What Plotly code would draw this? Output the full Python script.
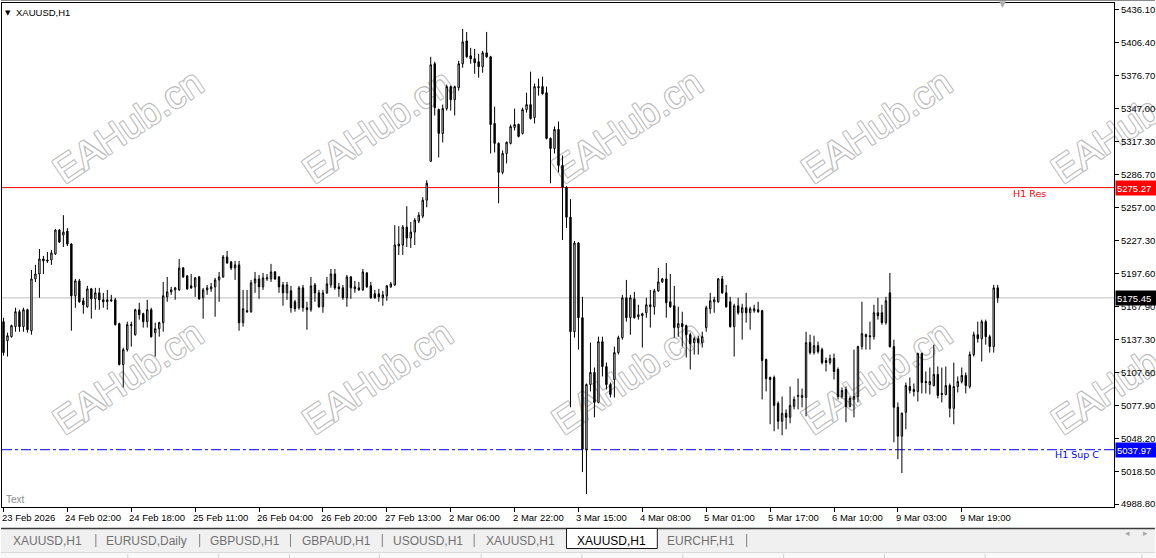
import plotly.graph_objects as go

# ---------------- data ----------------
opens = [5153.9, 5136.7, 5140.3, 5149.4, 5162.9, 5149.4, 5164.7, 5145.7, 5192.6, 5197.1,
         5210.7, 5209.8, 5209.8, 5215.2, 5236.8, 5232.3, 5235.9, 5224.2, 5177.3, 5190.8,
         5172.8, 5167.4, 5183.6, 5174.6, 5180.0, 5173.7, 5171.9, 5173.7, 5173.7, 5152.1,
         5115.1, 5128.6, 5150.3, 5142.1, 5164.7, 5161.1, 5153.9, 5164.7, 5143.9, 5147.5,
         5153.0, 5176.4, 5180.9, 5182.7, 5182.7, 5202.5, 5195.3, 5186.3, 5185.4, 5194.4,
         5175.5, 5182.7, 5183.6, 5185.4, 5191.7, 5194.4, 5212.5, 5208.0, 5202.5, 5205.3,
         5153.0, 5163.8, 5162.9, 5189.0, 5192.6, 5185.4, 5192.6, 5192.6, 5198.9, 5194.4,
         5187.2, 5180.0, 5181.8, 5171.9, 5166.5, 5184.5, 5166.5, 5164.7, 5187.2, 5180.0,
         5167.4, 5180.0, 5187.2, 5197.1, 5185.4, 5184.5, 5175.5, 5194.4, 5183.6, 5184.5,
         5182.7, 5198.0, 5186.3, 5179.1, 5179.1, 5175.5, 5177.3, 5185.4, 5187.2, 5222.4,
         5223.3, 5239.5, 5229.6, 5235.0, 5244.9, 5249.4, 5263.9, 5299.0, 5387.4, 5345.9,
         5324.3, 5346.8, 5366.7, 5354.9, 5365.8, 5387.4, 5408.1, 5394.6, 5391.9, 5389.2,
         5384.7, 5397.3, 5393.7, 5333.3, 5315.3, 5289.1, 5306.2, 5315.3, 5329.7, 5332.4,
         5324.3, 5345.9, 5350.4, 5338.7, 5366.7, 5366.7, 5361.2, 5319.8, 5310.7, 5327.9,
         5295.4, 5275.6, 5248.5, 5144.8, 5225.1, 5157.5, 5038.4, 5097.0, 5107.9, 5080.8,
         5135.8, 5113.3, 5097.0, 5101.5, 5125.9, 5139.4, 5175.5, 5157.5, 5174.6, 5158.4,
         5159.3, 5162.0, 5167.4, 5167.4, 5181.8, 5189.9, 5192.6, 5171.9, 5168.3, 5148.5,
         5152.1, 5150.3, 5142.1, 5134.9, 5138.5, 5134.9, 5148.5, 5165.6, 5171.9, 5171.9,
         5192.6, 5180.0, 5171.9, 5149.4, 5168.3, 5162.0, 5166.5, 5162.0, 5163.8, 5164.7,
         5163.8, 5119.6, 5103.3, 5103.3, 5079.9, 5063.7, 5070.9, 5067.3, 5077.2, 5086.2,
         5085.3, 5085.3, 5134.9, 5125.9, 5132.2, 5128.6, 5118.7, 5116.9, 5120.5, 5110.6,
         5086.2, 5092.5, 5077.2, 5083.5, 5086.2, 5131.3, 5142.1, 5141.2, 5140.3, 5162.0,
         5162.0, 5153.0, 5180.0, 5131.3, 5076.3, 5050.2, 5071.8, 5095.2, 5092.5, 5090.7,
         5125.0, 5099.7, 5097.0, 5096.1, 5106.1, 5088.9, 5088.0, 5096.1, 5075.4, 5095.2,
         5099.7, 5105.2, 5095.2, 5124.1, 5142.1, 5138.5, 5153.9, 5140.3, 5131.3, 5184.5]

highs = [5157.5, 5143.9, 5151.2, 5166.5, 5164.7, 5166.5, 5165.6, 5200.7, 5205.3, 5219.7,
         5213.4, 5217.0, 5218.8, 5237.7, 5237.7, 5250.3, 5238.6, 5225.1, 5192.6, 5192.6,
         5175.5, 5186.3, 5184.5, 5184.5, 5184.5, 5180.0, 5182.7, 5178.2, 5175.5, 5153.0,
         5130.4, 5153.9, 5153.9, 5165.6, 5171.0, 5162.0, 5173.7, 5166.5, 5153.0, 5153.9,
         5189.9, 5194.4, 5185.4, 5185.4, 5210.7, 5203.4, 5196.2, 5197.1, 5194.4, 5195.3,
         5184.5, 5187.2, 5189.0, 5193.5, 5198.9, 5214.3, 5217.9, 5208.9, 5208.9, 5208.9,
         5182.7, 5182.7, 5191.7, 5198.9, 5196.2, 5198.0, 5197.1, 5206.2, 5199.8, 5195.3,
         5189.9, 5189.9, 5186.3, 5173.7, 5186.3, 5187.2, 5171.9, 5194.4, 5189.0, 5182.7,
         5182.7, 5194.4, 5201.6, 5201.6, 5189.0, 5187.2, 5196.2, 5195.3, 5190.8, 5189.9,
         5201.6, 5198.9, 5189.9, 5182.7, 5183.6, 5181.8, 5187.2, 5189.9, 5241.3, 5240.4,
         5241.3, 5258.4, 5244.0, 5247.6, 5253.0, 5266.6, 5281.9, 5393.7, 5389.2, 5346.8,
         5350.4, 5368.5, 5367.6, 5367.6, 5390.1, 5418.9, 5416.2, 5401.8, 5400.9, 5396.4,
         5399.1, 5416.2, 5394.6, 5348.6, 5316.2, 5308.9, 5317.1, 5332.4, 5346.8, 5333.3,
         5347.7, 5361.2, 5380.2, 5369.4, 5373.9, 5375.7, 5366.7, 5320.7, 5330.6, 5335.1,
         5304.4, 5276.5, 5264.8, 5226.9, 5226.0, 5176.4, 5097.9, 5134.9, 5112.4, 5140.3,
         5140.3, 5116.9, 5098.8, 5131.3, 5141.2, 5178.2, 5191.7, 5178.2, 5180.9, 5169.2,
         5162.0, 5175.5, 5182.7, 5183.6, 5202.5, 5193.5, 5207.1, 5197.1, 5186.3, 5167.4,
         5162.9, 5151.2, 5143.9, 5140.3, 5141.2, 5144.8, 5168.3, 5180.0, 5176.4, 5193.5,
         5195.3, 5187.2, 5176.4, 5170.1, 5175.5, 5170.1, 5180.0, 5167.4, 5169.2, 5171.9,
         5164.7, 5120.5, 5104.2, 5105.1, 5081.7, 5086.2, 5074.5, 5095.2, 5086.2, 5102.4,
         5093.4, 5144.8, 5142.1, 5141.2, 5135.8, 5130.4, 5121.4, 5124.1, 5125.0, 5112.4,
         5094.3, 5095.2, 5086.2, 5128.6, 5132.2, 5171.9, 5143.0, 5153.9, 5169.2, 5175.5,
         5169.2, 5176.4, 5198.0, 5137.6, 5080.8, 5071.8, 5098.8, 5103.3, 5097.9, 5125.9,
         5125.9, 5108.8, 5112.4, 5133.1, 5113.3, 5112.4, 5113.3, 5097.9, 5116.9, 5104.3,
         5112.4, 5107.9, 5126.8, 5144.8, 5153.9, 5155.7, 5155.7, 5142.1, 5187.2, 5187.2]

lows = [5123.2, 5122.3, 5139.4, 5144.8, 5144.8, 5144.8, 5143.9, 5142.1, 5189.9, 5175.5,
        5197.1, 5207.1, 5205.3, 5214.3, 5225.1, 5221.5, 5222.4, 5145.7, 5166.5, 5171.0,
        5161.1, 5166.5, 5156.6, 5164.7, 5164.7, 5166.5, 5164.7, 5171.9, 5150.3, 5114.2,
        5094.3, 5126.8, 5131.3, 5141.2, 5155.7, 5148.5, 5148.5, 5139.4, 5122.3, 5140.3,
        5144.8, 5171.9, 5178.2, 5173.7, 5181.8, 5193.5, 5182.7, 5183.6, 5176.4, 5173.7,
        5156.6, 5178.2, 5180.9, 5158.4, 5171.9, 5193.5, 5206.2, 5200.7, 5191.7, 5145.7,
        5149.4, 5162.0, 5162.0, 5180.0, 5174.6, 5182.7, 5190.8, 5189.9, 5191.7, 5180.0,
        5168.3, 5173.7, 5162.0, 5162.9, 5164.7, 5162.9, 5146.6, 5162.9, 5171.9, 5166.5,
        5162.0, 5179.1, 5184.5, 5182.7, 5176.4, 5173.7, 5167.4, 5174.6, 5180.0, 5181.8,
        5181.8, 5184.5, 5174.6, 5174.6, 5171.9, 5168.3, 5172.8, 5184.5, 5186.3, 5214.3,
        5214.3, 5221.5, 5220.6, 5223.3, 5243.1, 5247.6, 5257.5, 5299.0, 5340.5, 5302.6,
        5316.2, 5345.0, 5345.0, 5340.5, 5363.0, 5383.8, 5392.8, 5387.4, 5378.4, 5374.8,
        5379.3, 5392.8, 5306.2, 5307.1, 5261.1, 5287.3, 5297.2, 5314.4, 5327.0, 5320.7,
        5323.4, 5343.2, 5336.9, 5333.3, 5358.5, 5359.4, 5318.9, 5279.2, 5306.2, 5289.1,
        5227.8, 5238.6, 5076.3, 5139.4, 5128.6, 5017.7, 4997.9, 5090.7, 5067.3, 5079.9,
        5104.3, 5092.5, 5085.3, 5085.3, 5124.1, 5137.6, 5153.9, 5142.1, 5156.6, 5155.7,
        5130.4, 5157.5, 5148.5, 5160.2, 5180.9, 5189.0, 5157.5, 5166.5, 5139.4, 5140.3,
        5131.3, 5121.4, 5110.6, 5124.1, 5124.1, 5130.4, 5144.8, 5161.1, 5162.0, 5171.0,
        5179.1, 5166.5, 5148.5, 5122.3, 5160.2, 5137.6, 5153.0, 5146.6, 5162.0, 5162.0,
        5083.5, 5090.7, 5061.0, 5054.7, 5056.5, 5051.1, 5056.5, 5061.9, 5074.5, 5074.5,
        5076.3, 5068.2, 5124.1, 5124.1, 5125.0, 5115.1, 5108.8, 5115.1, 5101.5, 5083.5,
        5084.4, 5062.8, 5076.3, 5067.3, 5080.8, 5128.6, 5128.6, 5128.6, 5137.6, 5155.7,
        5151.2, 5151.2, 5130.4, 5044.7, 5029.4, 5016.8, 5056.5, 5088.9, 5086.2, 5081.7,
        5088.9, 5088.9, 5088.0, 5095.2, 5084.4, 5080.8, 5087.1, 5067.3, 5061.0, 5089.8,
        5097.9, 5088.9, 5093.4, 5122.3, 5134.9, 5117.8, 5133.1, 5125.9, 5125.9, 5171.0]

closes = [5125.9, 5141.2, 5150.3, 5162.9, 5149.4, 5164.7, 5146.6, 5192.6, 5197.1, 5210.7,
          5208.9, 5208.9, 5216.1, 5236.8, 5226.0, 5235.0, 5224.2, 5177.3, 5190.8, 5171.9,
          5169.2, 5183.6, 5174.6, 5180.0, 5173.7, 5171.9, 5173.7, 5172.8, 5151.2, 5115.1,
          5128.6, 5151.2, 5151.2, 5164.7, 5160.2, 5153.9, 5164.7, 5140.3, 5147.5, 5153.0,
          5177.3, 5180.9, 5182.7, 5184.5, 5202.5, 5194.4, 5183.6, 5184.5, 5193.5, 5174.6,
          5182.7, 5184.5, 5185.4, 5191.7, 5194.4, 5212.5, 5207.1, 5202.5, 5205.3, 5153.0,
          5165.6, 5162.9, 5189.0, 5192.6, 5185.4, 5193.5, 5193.5, 5198.9, 5192.6, 5185.4,
          5180.0, 5187.2, 5166.5, 5165.6, 5184.5, 5166.5, 5164.7, 5186.3, 5180.0, 5167.4,
          5180.0, 5188.1, 5197.1, 5184.5, 5183.6, 5175.5, 5194.4, 5184.5, 5185.4, 5182.7,
          5198.9, 5185.4, 5175.5, 5175.5, 5176.4, 5178.2, 5186.3, 5188.1, 5223.3, 5224.2,
          5239.5, 5229.6, 5235.0, 5245.8, 5250.3, 5263.9, 5279.2, 5386.5, 5347.7, 5324.3,
          5346.8, 5366.7, 5354.9, 5366.7, 5387.4, 5407.2, 5393.7, 5391.9, 5388.3, 5384.7,
          5397.3, 5393.7, 5332.4, 5315.3, 5289.1, 5306.2, 5316.2, 5330.6, 5332.4, 5321.6,
          5345.9, 5350.4, 5337.8, 5366.7, 5365.8, 5360.3, 5319.8, 5310.7, 5327.9, 5295.4,
          5275.6, 5248.5, 5144.8, 5225.1, 5157.5, 5038.4, 5097.0, 5107.9, 5080.8, 5135.8,
          5113.3, 5097.0, 5088.0, 5125.9, 5139.4, 5175.5, 5157.5, 5175.5, 5157.5, 5160.2,
          5161.1, 5169.2, 5169.2, 5181.8, 5189.9, 5192.6, 5171.0, 5167.4, 5148.5, 5152.1,
          5149.4, 5142.1, 5134.0, 5138.5, 5134.9, 5140.3, 5166.5, 5172.8, 5173.7, 5192.6,
          5180.0, 5167.4, 5149.4, 5168.3, 5162.0, 5166.5, 5162.0, 5165.6, 5165.6, 5162.9,
          5118.7, 5102.4, 5101.5, 5078.1, 5063.7, 5070.9, 5067.3, 5078.1, 5083.5, 5087.1,
          5087.1, 5134.9, 5125.9, 5132.2, 5126.8, 5116.9, 5116.9, 5120.5, 5108.8, 5086.2,
          5091.6, 5077.2, 5084.4, 5086.2, 5131.3, 5143.0, 5140.3, 5140.3, 5162.0, 5159.3,
          5153.0, 5172.8, 5131.3, 5076.3, 5050.2, 5070.9, 5096.1, 5091.6, 5090.7, 5125.0,
          5098.8, 5098.8, 5099.7, 5106.1, 5087.1, 5088.0, 5096.1, 5075.4, 5095.2, 5099.7,
          5105.2, 5096.1, 5124.1, 5142.1, 5138.5, 5153.9, 5140.3, 5131.3, 5184.5, 5175.45]

time_labels = ["23 Feb 2026", "24 Feb 02:00", "24 Feb 18:00", "25 Feb 11:00", "26 Feb 04:00",
               "26 Feb 20:00", "27 Feb 13:00", "2 Mar 06:00", "2 Mar 22:00", "3 Mar 15:00",
               "4 Mar 08:00", "5 Mar 01:00", "5 Mar 17:00", "6 Mar 10:00", "9 Mar 03:00",
               "9 Mar 19:00"]
label_every = 16

price_ticks = [4988.80, 5018.50, 5048.20, 5077.90, 5107.60, 5137.30, 5167.90, 5197.60,
               5227.30, 5257.00, 5286.70, 5317.30, 5347.00, 5376.70, 5406.40, 5436.10]

res_level = 5275.27
bid_level = 5175.45
sup_level = 5037.97
res_name = "H1 Res"
sup_name = "H1 Sup C"

symbol_title = "XAUUSD,H1"
tabs = ["XAUUSD,H1", "EURUSD,Daily", "GBPUSD,H1", "GBPAUD,H1", "USOUSD,H1",
        "XAUUSD,H1", "XAUUSD,H1", "EURCHF,H1"]
active_tab = 6
watermark = "EAHub.cn"

# ---------------- layout geometry ----------------
W, H = 1156, 558
ML, MR, MT, MB = 1, 41, 3, 51
PW = W - ML - MR
PH = H - MT - MB
BAR_PX = 4.0


def px(x):
    return (x - ML) / PW


def py(y):
    return (H - MB - y) / PH


x_range = [-(2.5 - ML) / BAR_PX, -(2.5 - ML) / BAR_PX + PW / BAR_PX]
y_range = [4986.1, 5442.4]

fig = go.Figure()
fig.add_trace(go.Candlestick(
    x=list(range(len(opens))), open=opens, high=highs, low=lows, close=closes,
    increasing=dict(line=dict(color="black", width=1), fillcolor="white"),
    decreasing=dict(line=dict(color="black", width=1), fillcolor="black"),
    whiskerwidth=0, hoverinfo="skip", showlegend=False,
))

FONT = "Liberation Sans"
shapes = []
annotations = []

# watermarks (outlined text, below the candles)
outline = ("-1px -1px 0 #bdbdbd, 1px -1px 0 #bdbdbd, -1px 1px 0 #bdbdbd, 1px 1px 0 #bdbdbd")
for cy in (123, 374):
    for cx in (125, 375, 625, 875, 1125):
        shapes.append(dict(
            type="rect", xref="paper", yref="paper",
            x0=px(cx - 4), x1=px(cx + 4), y0=py(cy + 4), y1=py(cy - 4),
            line=dict(width=0, color="rgba(0,0,0,0)"), fillcolor="rgba(0,0,0,0)", layer="below",
            label=dict(text=watermark, textangle=-34, textposition="middle center",
                       font=dict(family=FONT, size=38, color="white", shadow=outline)),
        ))

# horizontal levels
shapes.append(dict(type="line", xref="paper", yref="y", x0=0, x1=1, y0=bid_level, y1=bid_level,
                   line=dict(color="#c0c0c0", width=1), layer="below"))
shapes.append(dict(type="line", xref="paper", yref="y", x0=0, x1=1, y0=res_level, y1=res_level,
                   line=dict(color="#ff0000", width=1), layer="below"))
shapes.append(dict(type="line", xref="paper", yref="y", x0=0, x1=1, y0=sup_level, y1=sup_level,
                   line=dict(color="#0000ff", width=1, dash="10px,3px,3px,3px"), layer="below"))

# window frame top line
shapes.append(dict(type="line", xref="paper", yref="paper", x0=px(0), x1=px(W), y0=py(0.5), y1=py(0.5),
                   line=dict(color="#8a8a8a", width=1)))

# tab bar
shapes.append(dict(type="rect", xref="paper", yref="paper", x0=px(0), x1=px(W), y0=py(552), y1=py(529),
                   line=dict(width=0), fillcolor="#f0f0f0"))
shapes.append(dict(type="line", xref="paper", yref="paper", x0=px(0), x1=px(W), y0=py(528.5), y1=py(528.5),
                   line=dict(color="#3a3a3a", width=1.5)))
shapes.append(dict(type="rect", xref="paper", yref="paper", x0=px(0), x1=px(W), y0=py(558), y1=py(553),
                   line=dict(width=0), fillcolor="#f9f9f9"))
shapes.append(dict(type="line", xref="paper", yref="paper", x0=px(0), x1=px(W), y0=py(552.5), y1=py(552.5),
                   line=dict(color="#dadada", width=1)))
for sx in (127, 218, 289, 379, 481, 582, 683, 784, 885, 986, 1143):
    shapes.append(dict(type="line", xref="paper", yref="paper", x0=px(sx), x1=px(sx), y0=py(558), y1=py(554),
                       line=dict(color="#cfcfcf", width=1)))
shapes.append(dict(type="rect", xref="paper", yref="paper", x0=px(566.5), x1=px(657.5), y0=py(548.5), y1=py(528.5),
                   line=dict(color="#1a1a1a", width=1), fillcolor="white"))

tab_centers = [47, 146, 244, 336, 428, 520, 612, 701]
for i, (name, cx) in enumerate(zip(tabs, tab_centers)):
    annotations.append(dict(xref="paper", yref="paper", x=px(cx), y=py(540.5), text=name, showarrow=False,
                            xanchor="center", yanchor="middle",
                            font=dict(family=FONT, size=12, color="black" if i == active_tab else "#707070")))
for sx in (95, 199, 290, 382, 474, 747):
    shapes.append(dict(type="line", xref="paper", yref="paper", x0=px(sx), x1=px(sx), y0=py(547), y1=py(534),
                       line=dict(color="#808080", width=1)))
annotations.append(dict(xref="paper", yref="paper", x=px(1133), y=py(540), text="◂", showarrow=False,
                        font=dict(family="DejaVu Sans", size=9, color="#a8a8a8")))
annotations.append(dict(xref="paper", yref="paper", x=px(1151), y=py(540), text="▸", showarrow=False,
                        font=dict(family="DejaVu Sans", size=9, color="#a8a8a8")))

# time labels (left-aligned at their tick like MT4)
for i, lab in enumerate(time_labels):
    annotations.append(dict(xref="x", yref="paper", x=i * label_every, y=py(517), text=lab, showarrow=False,
                            xanchor="left", yanchor="middle", xshift=-4,
                            font=dict(family=FONT, size=9.5, color="black")))

# title and small markers
annotations.append(dict(xref="paper", yref="paper", x=px(7), y=py(12.5), text="▼", showarrow=False,
                        xanchor="center", yanchor="middle", font=dict(family="DejaVu Sans", size=7, color="black")))
annotations.append(dict(xref="paper", yref="paper", x=px(13), y=py(12.5), text=symbol_title, showarrow=False,
                        xanchor="left", yanchor="middle", font=dict(family=FONT, size=9.5, color="black")))
annotations.append(dict(xref="paper", yref="paper", x=px(1003), y=py(4.5), text="▼", showarrow=False,
                        xanchor="center", yanchor="middle", font=dict(family="DejaVu Sans", size=9, color="#b0b0b0")))
annotations.append(dict(xref="paper", yref="paper", x=px(3), y=py(499.5), text="Text", showarrow=False,
                        xanchor="left", yanchor="middle", font=dict(family=FONT, size=10, color="#8c8c8c")))

# level names
annotations.append(dict(xref="paper", yref="y", x=px(1049), y=res_level, yshift=-6, text=res_name,
                        showarrow=False, xanchor="right", yanchor="middle",
                        font=dict(family="DejaVu Sans", size=9.5, color="#ff0000")))
annotations.append(dict(xref="paper", yref="y", x=px(1102), y=sup_level, yshift=-5, text=sup_name,
                        showarrow=False, xanchor="right", yanchor="middle",
                        font=dict(family="DejaVu Sans", size=9.5, color="#0000ff")))

# price boxes on the axis
for lvl, bg in ((res_level, "#ff0000"), (bid_level, "#000000"), (sup_level, "#0000ff")):
    annotations.append(dict(xref="paper", yref="y", x=px(1116), y=lvl, text=f"{lvl:.2f}", showarrow=False,
                            xanchor="left", yanchor="middle", align="left", bgcolor=bg, borderpad=1,
                            width=38, height=12,
                            font=dict(family=FONT, size=9.5, color="white")))

fig.update_layout(
    width=W, height=H,
    margin=dict(l=ML, r=MR, t=MT, b=MB, pad=0),
    paper_bgcolor="white", plot_bgcolor="rgba(0,0,0,0)",
    boxgap=0.5,
    showlegend=False,
    shapes=shapes, annotations=annotations,
    xaxis=dict(range=x_range, rangeslider=dict(visible=False), showgrid=False, zeroline=False,
               tickmode="array", tickvals=[i * label_every for i in range(len(time_labels))],
               showticklabels=False, ticks="outside", ticklen=4, tickcolor="black", tickwidth=1,
               showline=True, linecolor="black", linewidth=1, mirror=True, fixedrange=True),
    yaxis=dict(range=y_range, side="right", showgrid=False, zeroline=False,
               tickmode="array", tickvals=price_ticks, ticktext=[f"{v:.2f}" for v in price_ticks],
               ticks="outside", ticklen=4, tickcolor="black", tickwidth=1,
               tickfont=dict(family=FONT, size=9.5, color="black"),
               showline=True, linecolor="black", linewidth=1, mirror=True, fixedrange=True),
)

fig.write_html("out.html", config={"displayModeBar": False, "staticPlot": True},
               post_script="document.body.style.margin='0';document.body.style.padding='0';"
                           "document.documentElement.style.overflow='hidden';")
